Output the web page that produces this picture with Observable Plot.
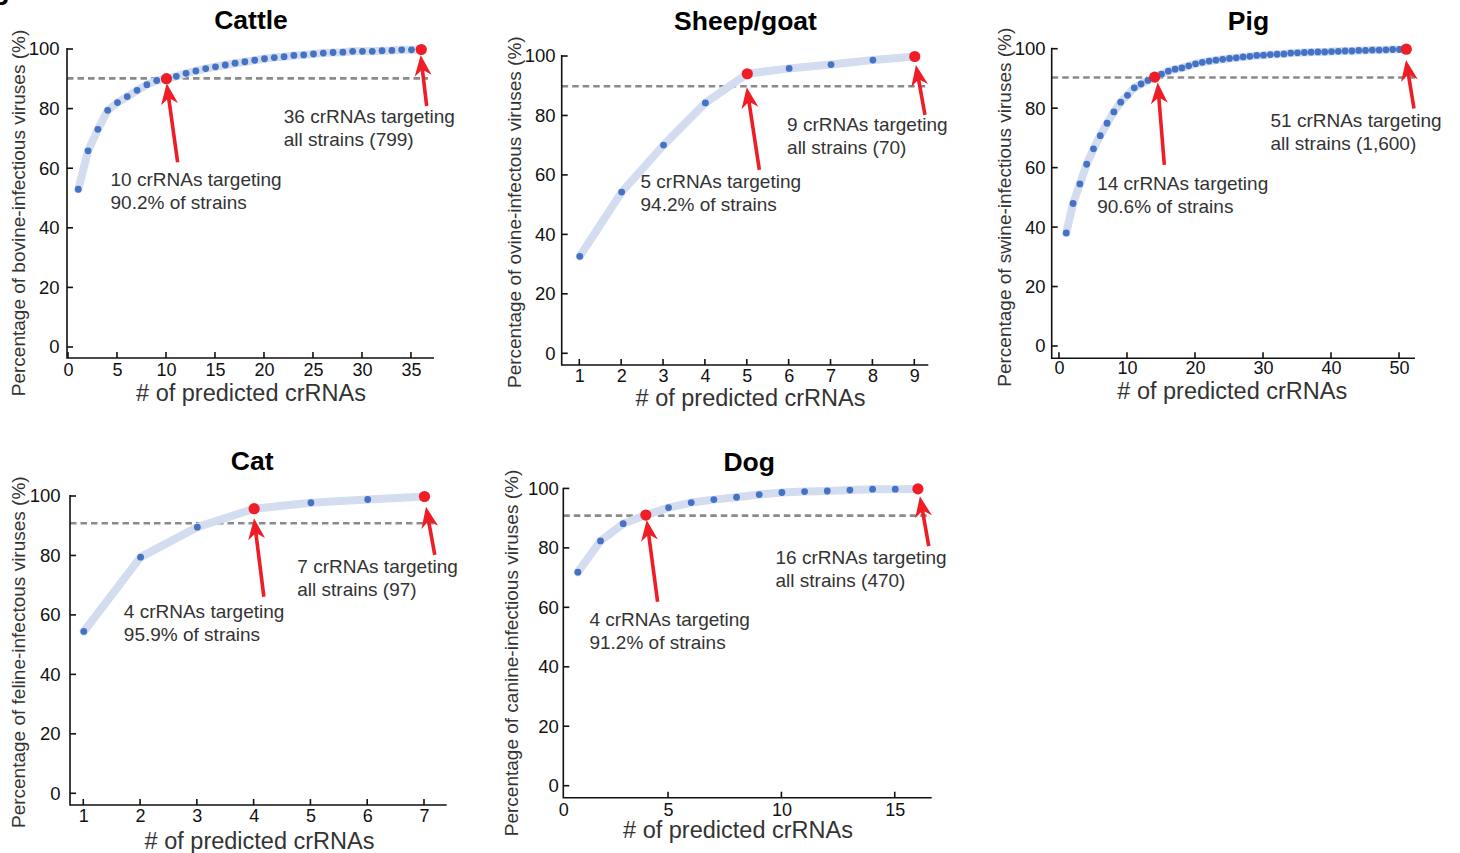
<!DOCTYPE html>
<html>
<head>
<meta charset="utf-8">
<script src="https://cdn.jsdelivr.net/npm/d3@7"></script>
<script src="https://cdn.jsdelivr.net/npm/@observablehq/plot@0.6"></script>
<style>
  body { margin: 0; background: #fff; }
  #root { position: relative; width: 1460px; height: 853px; overflow: hidden; background: #fff; }
  .panel { position: absolute; }
</style>
</head>
<body>
<div id="root"></div>
<script>
const FONT = '"Liberation Sans", Arial, Helvetica, sans-serif';

// ---- data ----
const species = ["Cattle", "Sheep/goat", "Pig", "Cat", "Dog"];
const yAxisLabels = [
  "Percentage of bovine-infectious viruses (%)",
  "Percentage of ovine-infectous viruses (%)",
  "Percentage of swine-infectious viruses (%)",
  "Percentage of feline-infectous viruses (%)",
  "Percentage of canine-infectious viruses (%)"
];
const xAxisLabel = "# of predicted crRNAs";
const yTicks = [0, 20, 40, 60, 80, 100];

const cattleCoverage = [53.1, 66.0, 73.2, 79.6, 82.2, 84.2, 86.3, 88.2, 89.6, 90.2,
  91.0, 92.0, 92.8, 93.6, 94.2, 94.8, 95.4, 95.9, 96.4, 96.9,
  97.3, 97.6, 98.0, 98.2, 98.5, 98.8, 99.0, 99.1, 99.4, 99.4,
  99.4, 99.6, 99.7, 99.9, 99.9, 100];
const sheepCoverage = [32.8, 54.4, 70.2, 84.4, 94.2, 96.0, 97.3, 98.8, 100];
const pigCoverage = [38.2, 48.1, 54.7, 61.3, 66.5, 70.9, 75.1, 78.9, 82.2, 84.5,
  87.0, 88.3, 89.5, 90.6, 91.6, 92.6, 93.3, 93.7, 94.4, 95.1,
  95.6, 96.0, 96.3, 96.6, 96.9, 97.1, 97.4, 97.6, 97.9, 98.0,
  98.2, 98.3, 98.4, 98.7, 98.8, 98.9, 99.0, 99.1, 99.1, 99.2,
  99.3, 99.4, 99.4, 99.6, 99.6, 99.7, 99.7, 99.8, 99.9, 99.9, 100];
const catCoverage = [54.6, 79.6, 89.7, 95.9, 97.9, 99.0, 100];
const dogCoverage = [72.0, 82.5, 88.3, 91.2, 93.7, 95.4, 96.4, 97.2, 98.1, 98.8,
  99.1, 99.3, 99.6, 99.9, 99.9, 100];

const cattleMarked = [10, 36];
const sheepMarked = [5, 9];
const pigMarked = [14, 51];
const catMarked = [4, 7];
const dogMarked = [4, 16];

const cattleTicks = [0, 5, 10, 15, 20, 25, 30, 35];
const sheepTicks = [1, 2, 3, 4, 5, 6, 7, 8, 9];
const pigTicks = [0, 10, 20, 30, 40, 50];
const catTicks = [1, 2, 3, 4, 5, 6, 7];
const dogTicks = [5, 10, 15];
const dogOriginTick = [0];   // drawn at the axis corner, as in the reference

const thresholds = [90.3, 90.0, 90.5, 91.0, 91.0];

const cattleNotes = ["10 crRNAs targeting\n90.2% of strains", "36 crRNAs targeting\nall strains (799)"];
const sheepNotes = ["5 crRNAs targeting\n94.2% of strains", "9 crRNAs targeting\nall strains (70)"];
const pigNotes = ["14 crRNAs targeting\n90.6% of strains", "51 crRNAs targeting\nall strains (1,600)"];
const catNotes = ["4 crRNAs targeting\n95.9% of strains", "7 crRNAs targeting\nall strains (97)"];
const dogNotes = ["4 crRNAs targeting\n91.2% of strains", "16 crRNAs targeting\nall strains (470)"];

// ---- annotation anchors (data units) and layout ----
const panels = [
  { name: species[0], ylab: yAxisLabels[0], values: cattleCoverage, marked: cattleMarked, xTicks: cattleTicks, threshold: thresholds[0],
    notes: [{x: 4.29, y: 52.95, text: cattleNotes[0]}, {x: 21.97, y: 73.9, text: cattleNotes[1]}],
    arrows: [{x1: 11.19, y1: 62.0, x2: 10.07, y2: 88.5}, {x1: 36.6, y1: 80.9, x2: 35.99, y2: 98.0}],
    L: {left: 0, top: 0, w: 460, h: 410, mL: 67, mR: 26, mT: 48, mB: 52, xDomain: [-0.1, 37.35], yDomain: [-3.69, 100.34],
        dash: 6, xPad: 5.5, yPad: 8, title: [0, -28], xlab: [0, 32], ylab: [-49, 9.5]} },
  { name: species[1], ylab: yAxisLabels[1], values: sheepCoverage, marked: sheepMarked, xTicks: sheepTicks, threshold: thresholds[1],
    notes: [{x: 2.45, y: 54.4, text: sheepNotes[0]}, {x: 5.95, y: 73.4, text: sheepNotes[1]}],
    arrows: [{x1: 5.30, y1: 61.7, x2: 5.0, y2: 89.5}, {x1: 9.255, y1: 80.2, x2: 9.04, y2: 97.0}],
    L: {left: 490, top: 0, w: 480, h: 410, mL: 71.7, mR: 41.7, mT: 55, mB: 45, xDomain: [0.58, 9.335], yDomain: [-3.94, 100.34],
        dash: 3, xPad: 4.5, yPad: 6.7, title: [0, -34.3], xlab: [5, 30], ylab: [-47.7, 1.7]} },
  { name: species[2], ylab: yAxisLabels[2], values: pigCoverage, marked: pigMarked, xTicks: pigTicks, threshold: thresholds[2],
    notes: [{x: 5.54, y: 51.4, text: pigNotes[0]}, {x: 31.03, y: 72.3, text: pigNotes[1]}],
    arrows: [{x1: 15.49, y1: 60.9, x2: 14.51, y2: 88.6}, {x1: 52.2, y1: 79.9, x2: 51.03, y2: 96.2}],
    L: {left: 980, top: 0, w: 480, h: 410, mL: 71.7, mR: 45, mT: 47.7, mB: 51.7, xDomain: [-1.07, 52.35], yDomain: [-4.14, 100.34],
        dash: 0, xPad: 3.5, yPad: 6.7, title: [14.6, -27], xlab: [-1.6, 30], ylab: [-47.7, 3.7]} },
  { name: species[3], ylab: yAxisLabels[3], values: catCoverage, marked: catMarked, xTicks: catTicks, threshold: thresholds[3],
    notes: [{x: 1.705, y: 57.9, text: catNotes[0]}, {x: 4.76, y: 72.9, text: catNotes[1]}],
    arrows: [{x1: 4.18, y1: 66.1, x2: 4.007, y2: 92.5}, {x1: 7.19, y1: 80.2, x2: 7.036, y2: 96.4}],
    L: {left: 0, top: 440, w: 470, h: 413, mL: 70, mR: 23.3, mT: 55, mB: 48, xDomain: [0.766, 7.40], yDomain: [-3.94, 100.34],
        dash: 13, xPad: 5.2, yPad: 10, title: [-6.7, -34.3], xlab: [0.7, 33.3], ylab: [-51.7, 1.7]} },
  { name: species[4], ylab: yAxisLabels[4], values: dogCoverage, marked: dogMarked, xTicks: dogTicks, threshold: thresholds[4],
    originTick: dogOriginTick,
    notes: [{x: 1.51, y: 52.6, text: dogNotes[0]}, {x: 9.72, y: 73.5, text: dogNotes[1]}],
    arrows: [{x1: 4.54, y1: 61.9, x2: 4.06, y2: 89.4}, {x1: 16.5, y1: 80.6, x2: 16.11, y2: 97.4}],
    L: {left: 490, top: 440, w: 480, h: 413, mL: 73.3, mR: 38.3, mT: 47.7, mB: 55.3, xDomain: [0.38, 16.63], yDomain: [-4.04, 100.24],
        dash: 5, xPad: 5.8, yPad: 5, title: [1.2, -26], xlab: [-10, 29.6], ylab: [-51.6, 9.8], originDx: 8.6} }
];

// axis frame with inward ticks (MATLAB style)
function axisFrame(xTicks, yTicksArr, xDomain) {
  return (index, scales, values, dims) => {
    const {x, y} = scales;
    const Lx = dims.marginLeft, R = dims.width - dims.marginRight, T = dims.marginTop, B = dims.height - dims.marginBottom;
    const g = d3.create("svg:g").attr("fill", "none").attr("stroke", "#111").attr("stroke-width", 1.6);
    g.append("path").attr("d", `M${Lx},${T}V${B}H${R}`);
    const tl = 6;
    for (const v of xTicks) {
      if (v < xDomain[0] || v > xDomain[1]) continue;
      const p = x(v);
      g.append("line").attr("x1", p).attr("x2", p).attr("y1", B).attr("y2", B - tl);
    }
    for (const v of yTicksArr) {
      const p = y(v);
      g.append("line").attr("x1", Lx).attr("x2", Lx + tl).attr("y1", p).attr("y2", p);
    }
    return g.node();
  };
}

// filled notched arrows
function arrowsMark(arrows) {
  return (index, scales) => {
    const {x, y} = scales;
    const g = d3.create("svg:g").attr("fill", "#ee1d26").attr("stroke", "none");
    for (const a of arrows) {
      const tx = x(a.x1), ty = y(a.y1), hx = x(a.x2), hy = y(a.y2);
      const dx = hx - tx, dy = hy - ty, len = Math.hypot(dx, dy);
      const ux = dx / len, uy = dy / len, nx = -uy, ny = ux;
      const w = 1.8, H = 21, W = 8.5, N = 5;
      const neckX = hx - ux * (H - N), neckY = hy - uy * (H - N);
      const wingX = hx - ux * H, wingY = hy - uy * H;
      const pts = [
        [tx + nx * w, ty + ny * w],
        [neckX + nx * w, neckY + ny * w],
        [wingX + nx * W, wingY + ny * W],
        [hx, hy],
        [wingX - nx * W, wingY - ny * W],
        [neckX - nx * w, neckY - ny * w],
        [tx - nx * w, ty - ny * w]
      ];
      g.append("polygon").attr("points", pts.map(p => p.join(",")).join(" "));
    }
    return g.node();
  };
}

const root = document.getElementById("root");

// panel letter (cropped at the top-left corner)
const letter = d3.create("svg").attr("width", 30).attr("height", 12)
  .style("position", "absolute").style("left", "0px").style("top", "0px");
letter.append("text").attr("x", -10).attr("y", 5).attr("font-size", 26).attr("font-weight", "bold")
  .attr("font-family", FONT).text("B");
root.appendChild(letter.node());

for (const p of panels) {
  const L = p.L;
  const data = p.values.map((v, i) => ({n: i + 1, pct: v}));
  const marked = data.filter(d => p.marked.includes(d.n));
  const extra = [];
  if (p.originTick) {
    extra.push(Plot.axisX(p.originTick, {tickSize: 0, tickPadding: L.xPad - 1, dx: L.originDx, fontSize: 18, label: null}));
  }
  const chart = Plot.plot({
    width: L.w, height: L.h,
    marginLeft: L.mL, marginRight: L.mR, marginTop: L.mT, marginBottom: L.mB,
    x: {domain: L.xDomain},
    y: {domain: L.yDomain},
    style: {fontFamily: FONT, color: "#111", background: "transparent", overflow: "visible"},
    marks: [
      Plot.ruleY([p.threshold], {stroke: "#8a8a8a", strokeWidth: 2.6, strokeDasharray: "6.5,4", insetRight: L.dash}),
      Plot.line(data, {x: "n", y: "pct", stroke: "#d3ddef", strokeWidth: 8, strokeLinecap: "round", strokeLinejoin: "round"}),
      Plot.dot(data, {x: "n", y: "pct", r: 3.4, fill: "#4472c4"}),
      Plot.dot(marked, {x: "n", y: "pct", r: 5.6, fill: "#ee1d26"}),
      arrowsMark(p.arrows),
      Plot.text(p.notes, {x: "x", y: "y", text: "text", textAnchor: "start", lineAnchor: "middle",
        fontSize: 19, lineHeight: 1.21, fill: "#333"}),
      Plot.axisX(p.xTicks, {tickSize: 0, tickPadding: L.xPad - 1, fontSize: 18, label: null}),
      ...extra,
      Plot.axisY(yTicks, {tickSize: 0, tickPadding: L.yPad, fontSize: 18.5, label: null}),
      axisFrame(p.xTicks, yTicks, L.xDomain),
      Plot.text([p.name], {text: d => d, frameAnchor: "top", textAnchor: "middle", lineAnchor: "middle",
        dx: L.title[0], dy: L.title[1], fontSize: 26.5, fontWeight: "bold", fill: "#000"}),
      Plot.text([xAxisLabel], {text: d => d, frameAnchor: "bottom", textAnchor: "middle", lineAnchor: "middle",
        dx: L.xlab[0], dy: L.xlab[1] + 3, fontSize: 23.5, fill: "#333"}),
      Plot.text([p.ylab], {text: d => d, frameAnchor: "left", textAnchor: "middle", lineAnchor: "middle",
        rotate: -90, dx: L.ylab[0], dy: L.ylab[1], fontSize: 19, fill: "#333"})
    ]
  });
  const holder = document.createElement("div");
  holder.className = "panel";
  holder.style.left = L.left + "px";
  holder.style.top = L.top + "px";
  holder.appendChild(chart);
  root.appendChild(holder);
}
</script>
</body>
</html>
